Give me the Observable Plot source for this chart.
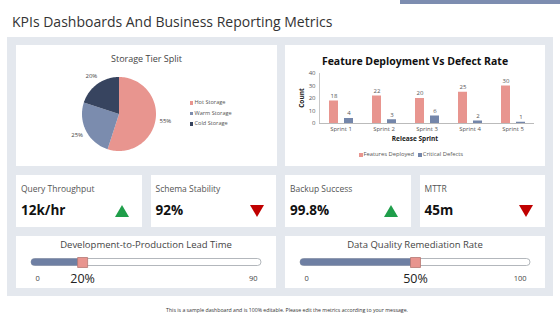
<!DOCTYPE html>
<html>
<head>
<meta charset="utf-8">
<script src="https://cdn.jsdelivr.net/npm/d3@7"></script>
<script src="https://cdn.jsdelivr.net/npm/@observablehq/plot@0.6"></script>
<style>
  html, body { margin: 0; padding: 0; background: #fff; }
  #page { position: relative; width: 560px; height: 315px; overflow: hidden; font-family: "Open Sans", "Noto Sans", sans-serif; color: #333; }
  .abs { position: absolute; }
  .card { position: absolute; background: #fff; }
  .t { position: absolute; white-space: nowrap; line-height: 1; }
  svg { overflow: visible; }
</style>
</head>
<body>
<div id="page"></div>
<script>
// ---------------- DATA ----------------
const pageTitle = "KPIs Dashboards And Business Reporting Metrics";
const footerText = "This is a sample dashboard and is 100% editable. Please edit the metrics according to your message.";

const pieTitle = "Storage Tier Split";
const tiers = ["Hot Storage", "Warm Storage", "Cold Storage"];
const tierShares = [55, 25, 20];
const tierColors = ["#e8958f", "#7b8cae", "#37445f"];

const barTitle = "Feature Deployment Vs Defect Rate";
const sprints = ["Sprint 1", "Sprint 2", "Sprint 3", "Sprint 4", "Sprint 5"];
const barSeries = ["Features Deployed", "Critical Defects"];
const featuresDeployed = [18, 22, 20, 25, 30];
const criticalDefects = [4, 3, 6, 2, 1];
const barColors = ["#e8958f", "#7486aa"];
const yTicks = [0, 10, 20, 30, 40];
const yAxisTitle = "Count";
const xAxisTitle = "Release Sprint";

const kpiNames = ["Query Throughput", "Schema Stability", "Backup Success", "MTTR"];
const kpiValues = ["12k/hr", "92%", "99.8%", "45m"];
const kpiTrends = ["up", "down", "up", "down"];

const sliderNames = ["Development-to-Production Lead Time", "Data Quality Remediation Rate"];
const sliderMins = [0, 0];
const sliderMaxs = [90, 100];
const sliderValues = [20, 50];
const sliderValueLabels = ["20%", "50%"];

// ---------------- HELPERS ----------------
const page = document.getElementById("page");
function box(cls, l, t, w, h, bg) {
  const d = document.createElement("div");
  d.className = cls;
  Object.assign(d.style, {left: l + "px", top: t + "px", width: w + "px", height: h + "px"});
  if (bg) d.style.background = bg;
  page.appendChild(d);
  return d;
}
function txt(s, x, y, o = {}) {
  const d = document.createElement("div");
  d.className = "t";
  d.textContent = s;
  const ax = o.anchor === "middle" ? "-50%" : o.anchor === "end" ? "-100%" : "0";
  Object.assign(d.style, {
    left: x + "px", top: y + "px",
    fontSize: (o.size || 8) + "px",
    fontWeight: o.weight || "normal",
    color: o.color || "#333",
    transform: `translate(${ax}, -50%)` + (o.rotate ? ` rotate(${o.rotate}deg)` : "")
  });
  if (o.family) d.style.fontFamily = o.family;
  page.appendChild(d);
  return d;
}
function place(svg, l, t) {
  svg.style.position = "absolute";
  svg.style.left = l + "px";
  svg.style.top = t + "px";
  page.appendChild(svg);
}

// ---------------- LAYOUT ----------------
box("abs", 400, 0, 160, 4, "#7d8db0");
txt(pageTitle, 12, 22, {size: 14, color: "#333"});
box("abs", 7, 37, 546, 259, "#e4e8ee");

box("card", 16, 45, 261, 121);
box("card", 285, 45, 260, 121);
const kpiLefts = [16, 150.5, 285, 419.5];
kpiLefts.forEach(l => box("card", l, 175, 125.5, 52));
box("card", 16, 236, 260, 52);
box("card", 285, 236, 260, 52);

// ---------------- PIE ----------------
txt(pieTitle, 146.5, 58, {size: 9, anchor: "middle", color: "#444"});
const R = 37;
const arcs = d3.pie().sort(null).value(d => d)(tierShares);
const piePts = [];
const pieLabels = [];
arcs.forEach((a, i) => {
  piePts.push({tier: tiers[i], x: 0, y: 0});
  const n = Math.max(2, Math.ceil((a.endAngle - a.startAngle) / (Math.PI / 90)));
  for (let k = 0; k <= n; k++) {
    const ang = a.startAngle + (a.endAngle - a.startAngle) * k / n;
    piePts.push({tier: tiers[i], x: Math.sin(ang), y: Math.cos(ang)});
  }
  const mid = (a.startAngle + a.endAngle) / 2;
  pieLabels.push({label: tierShares[i] + "%", x: 1.27 * Math.sin(mid), y: 1.27 * Math.cos(mid)});
});
const pieW = 130, pieH = 100, pcx = 60.5, pcy = 50.5;
const pie = Plot.plot({
  width: pieW, height: pieH,
  margin: 0,
  x: {domain: [-pcx / R, (pieW - pcx) / R], axis: null},
  y: {domain: [-(pieH - pcy) / R, pcy / R], axis: null},
  color: {domain: tiers, range: tierColors},
  style: {background: "transparent", fontFamily: "Open Sans"},
  marks: [
    Plot.line(piePts, {x: "x", y: "y", z: "tier", fill: "tier", stroke: "none", curve: "linear"}),
    Plot.text(pieLabels, {x: "x", y: "y", text: "label", fontSize: 6, fill: "#444"})
  ]
});
place(pie, 118.5 - pcx, 113.5 - pcy);
const legY = [103.3, 113.7, 124.3];
tiers.forEach((t, i) => {
  box("abs", 189.5, legY[i] - 2, 3.5, 3.5, tierColors[i]);
  txt(t, 194.5, legY[i], {size: 5.6, color: "#555"});
});

// ---------------- BAR ----------------
txt(barTitle, 415, 60.5, {size: 10.5, weight: "bold", anchor: "middle", color: "#111"});
const barRows = sprints.flatMap((s, i) => [
  {sprint: s, series: barSeries[0], value: featuresDeployed[i]},
  {sprint: s, series: barSeries[1], value: criticalDefects[i]}
]);
const bar = Plot.plot({
  width: 260, height: 80,
  marginLeft: 33, marginRight: 10, marginTop: 8, marginBottom: 22,
  fx: {domain: sprints, paddingInner: 0, paddingOuter: 0, axis: "bottom", label: null, tickSize: 0, tickPadding: 3},
  x: {domain: barSeries, paddingInner: 0.41, paddingOuter: 0.62, axis: null},
  y: {domain: [0, 40], ticks: yTicks, tickSize: 0, tickPadding: 4, label: null},
  color: {domain: barSeries, range: barColors},
  style: {background: "transparent", fontFamily: "Open Sans", fontSize: "6px", color: "#555"},
  marks: [
    Plot.frame({anchor: "left", facetAnchor: "left", stroke: "#c8c8c8"}),
    Plot.barY(barRows, {fx: "sprint", x: "series", y: "value", fill: "series"}),
    Plot.text(barRows, {fx: "sprint", x: "series", y: "value", text: d => String(d.value), dy: -5, fontSize: 6, fill: "#555"}),
    Plot.ruleY([0], {stroke: "#bbb"})
  ]
});
place(bar, 285, 65);
txt(yAxisTitle, 301.7, 98, {size: 6.5, weight: "bold", anchor: "middle", rotate: -90, color: "#222"});
txt(xAxisTitle, 415, 139, {size: 6.5, weight: "bold", anchor: "middle", color: "#222"});
const barLegX = [359, 418.3];
barSeries.forEach((s, i) => {
  box("abs", barLegX[i], 153.3, 3.5, 3.5, barColors[i]);
  txt(s, barLegX[i] + 4.5, 155, {size: 5.8, color: "#555"});
});

// ---------------- KPI ----------------
kpiNames.forEach((n, i) => {
  const l = kpiLefts[i];
  txt(n, l + 5, 189, {size: 8.5, color: "#555"});
  txt(kpiValues[i], l + 5, 210.5, {size: 13.5, weight: "bold", color: "#111"});
  const tri = document.createElement("div");
  tri.className = "abs";
  const cx = l + 125.5 - 19.5, cy = 210.5;
  const up = kpiTrends[i] === "up";
  Object.assign(tri.style, {
    left: (cx - 7) + "px", top: (cy - 6) + "px", width: 0, height: 0,
    borderLeft: "7px solid transparent", borderRight: "7px solid transparent",
    [up ? "borderBottom" : "borderTop"]: "12px solid " + (up ? "#1f9e4a" : "#c00000")
  });
  page.appendChild(tri);
});

// ---------------- SLIDERS ----------------
const sliderLefts = [16, 285];
sliderNames.forEach((n, i) => {
  const l = sliderLefts[i];
  txt(n, l + 130, 244.5, {size: 9.5, anchor: "middle", color: "#444"});
  const d = [{min: sliderMins[i], max: sliderMaxs[i], value: sliderValues[i], label: sliderValueLabels[i]}];
  const s = Plot.plot({
    width: 260, height: 36,
    marginLeft: 15, marginRight: 15, marginTop: 0, marginBottom: 12,
    x: {domain: [sliderMins[i], sliderMaxs[i]], axis: null},
    style: {background: "transparent", fontFamily: "Open Sans"},
    marks: [
      Plot.barX(d, {x1: "min", x2: "max", insetTop: 8.5, insetBottom: 8.5, rx: 3.5, fill: "#fff", stroke: "#a0a4ab", strokeWidth: 0.8}),
      Plot.barX(d, {x1: "min", x2: "value", insetTop: 8.5, insetBottom: 8.5, rx: 3.5, fill: "#6e7fa3"}),
      Plot.dot(d, {x: "value", symbol: "square", r: 5.64, fill: "#e8958f", stroke: "#b57873", strokeWidth: 0.8}),
      Plot.text(d, {x: "min", text: d => String(d.min), dy: 16, dx: 4, textAnchor: "start", fontSize: 7.5, fill: "#444"}),
      Plot.text(d, {x: "max", text: d => String(d.max), dy: 16, dx: -4, textAnchor: "end", fontSize: 7.5, fill: "#444"}),
      Plot.text(d, {x: "value", text: "label", dy: 16, fontSize: 12.5, fill: "#222"})
    ]
  });
  place(s, l, 250);
});

// ---------------- FOOTER ----------------
txt(footerText, 287, 310.5, {size: 5.2, anchor: "middle", color: "#333"});
</script>
</body>
</html>
